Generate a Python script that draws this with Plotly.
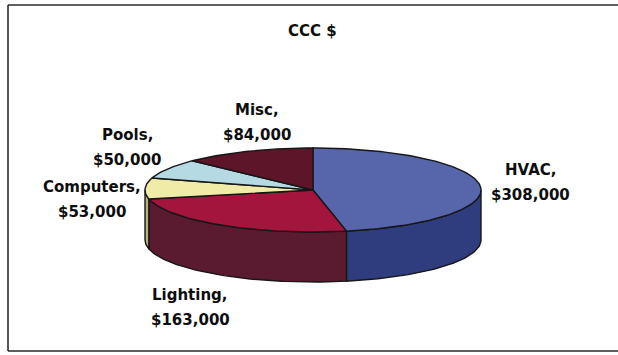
import numpy as np
import plotly.graph_objects as go

# Spending by category
categories = ["HVAC", "Lighting", "Computers", "Pools", "Misc"]
values = [308000, 163000, 53000, 50000, 84000]

# Styling
top_colors = ["#5766aa", "#a3153c", "#f1eba8", "#b6dae4", "#5c1529"]
side_colors = ["#2f3c7d", "#5a1a30", "#b8b27a", "#86aab4", "#3e0e1c"]
label_pos = {
    "HVAC": (530, 170),
    "Lighting": (190, 295),
    "Computers": (92, 187),
    "Pools": (127, 135),
    "Misc": (257, 110),
}

W, H = 618, 355
CX, CY, RX, RY, DEPTH = 313, 190, 168, 42, 50
EDGE = "#161616"
FONT = dict(family="DejaVu Sans", size=15, color="#0d0d0d")


def arc(a0, a1, dy=0.0, n=80):
    th = np.radians(np.linspace(a0, a1, max(2, int(n * abs(a1 - a0) / 90) + 2)))
    return CX + RX * np.sin(th), CY - RY * np.cos(th) + dy


total = float(sum(values))
bounds = np.concatenate([[0.0], np.cumsum(values) / total * 360.0])

fig = go.Figure()

# Side walls (only the front half of the disc is visible)
for i, name in enumerate(categories):
    a0, a1 = max(bounds[i], 90.0), min(bounds[i + 1], 270.0)
    if a1 <= a0:
        continue
    xt, yt = arc(a0, a1)
    xb, yb = arc(a1, a0, DEPTH)
    fig.add_trace(go.Scatter(
        x=np.concatenate([xt, xb, xt[:1]]), y=np.concatenate([yt, yb, yt[:1]]),
        mode="lines", fill="toself", fillcolor=side_colors[i],
        line=dict(color=EDGE, width=1.4), hoverinfo="skip", showlegend=False))

# Top faces
for i, name in enumerate(categories):
    xa, ya = arc(bounds[i], bounds[i + 1])
    fig.add_trace(go.Scatter(
        x=np.concatenate([[CX], xa, [CX]]), y=np.concatenate([[CY], ya, [CY]]),
        mode="lines", fill="toself", fillcolor=top_colors[i],
        line=dict(color=EDGE, width=1.4), name=name,
        hoverinfo="skip", showlegend=False))

# Data labels
for name, v in zip(categories, values):
    lx, ly = label_pos[name]
    fig.add_annotation(x=lx, y=ly, text=f"<b>{name},</b>", showarrow=False,
                       font=FONT, xanchor="center", yanchor="middle")
    fig.add_annotation(x=lx, y=ly + 25, text=f"<b>${v:,}</b>", showarrow=False,
                       font=FONT, xanchor="center", yanchor="middle")

fig.add_annotation(x=312, y=31, text="<b>CCC $</b>", showarrow=False,
                   font=FONT, xanchor="center", yanchor="middle")

# Chart frame (open on the right)
frame = dict(color="#2a2a2a", width=1.6)
fig.add_shape(type="line", x0=8, x1=W + 20, y0=5, y1=5, line=frame)
fig.add_shape(type="line", x0=8, x1=8, y0=5, y1=351, line=frame)
fig.add_shape(type="line", x0=8, x1=W + 20, y0=351, y1=351, line=frame)

fig.update_xaxes(range=[0, W], visible=False, fixedrange=True)
fig.update_yaxes(range=[H, 0], visible=False, fixedrange=True)
fig.update_layout(width=W, height=H, margin=dict(l=0, r=0, t=0, b=0),
                  paper_bgcolor="white", plot_bgcolor="white")

fig.write_html("out.html", config={"displayModeBar": False})
